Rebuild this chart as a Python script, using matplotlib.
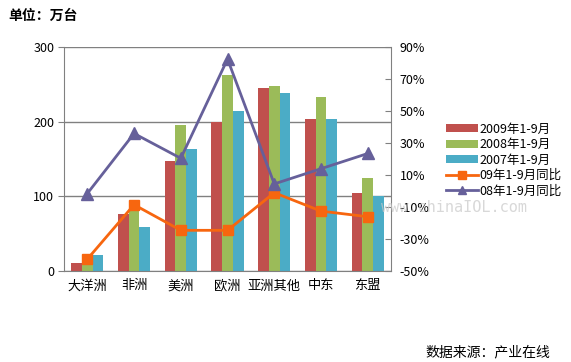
import matplotlib
matplotlib.use("Agg")
import matplotlib.pyplot as plt
import numpy as np

plt.rcParams['font.family'] = ['Noto Sans CJK SC', 'DejaVu Sans']

# Data
regions = ['大洋洲', '非洲', '美洲', '欧洲', '亚洲其他', '中东', '东盟']
sales_2009 = [11, 76, 147, 200, 245, 204, 105]
sales_2008 = [14, 85, 196, 263, 248, 233, 125]
sales_2007 = [21, 59, 163, 215, 238, 204, 100]
yoy_09 = [-42.5, -8.5, -24.5, -24.5, -1, -12.5, -16]
yoy_08 = [-1.5, 36, 20.5, 82.5, 4.5, 14, 23.5]

left_ticks = [0, 100, 200, 300]
right_ticks = [-50, -30, -10, 10, 30, 50, 70, 90]

red = '#C0504D'
green = '#9BBB59'
blue = '#4BACC6'
orange = '#F7660F'
purple = '#66609A'
grey = '#808080'

fig = plt.figure(figsize=(5.71, 3.62), dpi=100)
ax = fig.add_axes([0.112, 0.251, 0.573, 0.619])
ax2 = ax.twinx()

x = np.arange(len(regions))
w = 0.23
ax.bar(x - w, sales_2009, w, color=red, label='2009年1-9月', zorder=2)
ax.bar(x, sales_2008, w, color=green, label='2008年1-9月', zorder=2)
ax.bar(x + w, sales_2007, w, color=blue, label='2007年1-9月', zorder=2)

ax.set_ylim(0, 300)
ax.set_xlim(-0.5, len(regions) - 0.5)
ax.set_yticks(left_ticks)
ax.yaxis.grid(True, color=grey, linewidth=1, zorder=0)
ax.set_axisbelow(True)
ax.set_xticks(x)
ax.set_xticklabels(regions, fontsize=9.5)
ax.tick_params(axis='x', length=0, pad=6)
ax.tick_params(axis='y', labelsize=9, length=4, color=grey, direction='out', pad=3)
for s in ['top', 'right']:
    ax.spines[s].set_visible(False)
ax.spines['left'].set_color(grey)
ax.spines['bottom'].set_color(grey)

l1, = ax2.plot(x, yoy_09, color=orange, linewidth=2, marker='s', markersize=7,
               label='09年1-9月同比', zorder=3)
l2, = ax2.plot(x, yoy_08, color=purple, linewidth=2, marker='^', markersize=8,
               label='08年1-9月同比', zorder=3)
ax2.set_ylim(-50, 90)
ax2.set_yticks(right_ticks)
ax2.set_yticklabels([f'{v}%' for v in right_ticks])
ax2.tick_params(axis='y', labelsize=9, length=4, color=grey, direction='in', pad=6)
for s in ['top', 'left', 'bottom']:
    ax2.spines[s].set_visible(False)
ax2.spines['right'].set_color(grey)

h1, lab1 = ax.get_legend_handles_labels()
fig.legend(h1 + [l1, l2], lab1 + [l1.get_label(), l2.get_label()],
           loc='upper left', bbox_to_anchor=(0.772, 0.675), frameon=False,
           fontsize=9, handlelength=2.6, handleheight=0.6, markerscale=0.75,
           labelspacing=0.2, handletextpad=0.1, borderaxespad=0)

fig.text(0.014, 0.955, '单位：万台', fontsize=10, fontweight='bold', va='center')
fig.text(0.745, 0.027, '数据来源：产业在线', fontsize=10, va='center')
fig.text(0.668, 0.428, 'www.chinaIOL.com', fontsize=11, color='#C8C8C8',
         family='DejaVu Sans Mono', va='center', alpha=0.7, zorder=0)

fig.savefig('out.png', dpi=100)
